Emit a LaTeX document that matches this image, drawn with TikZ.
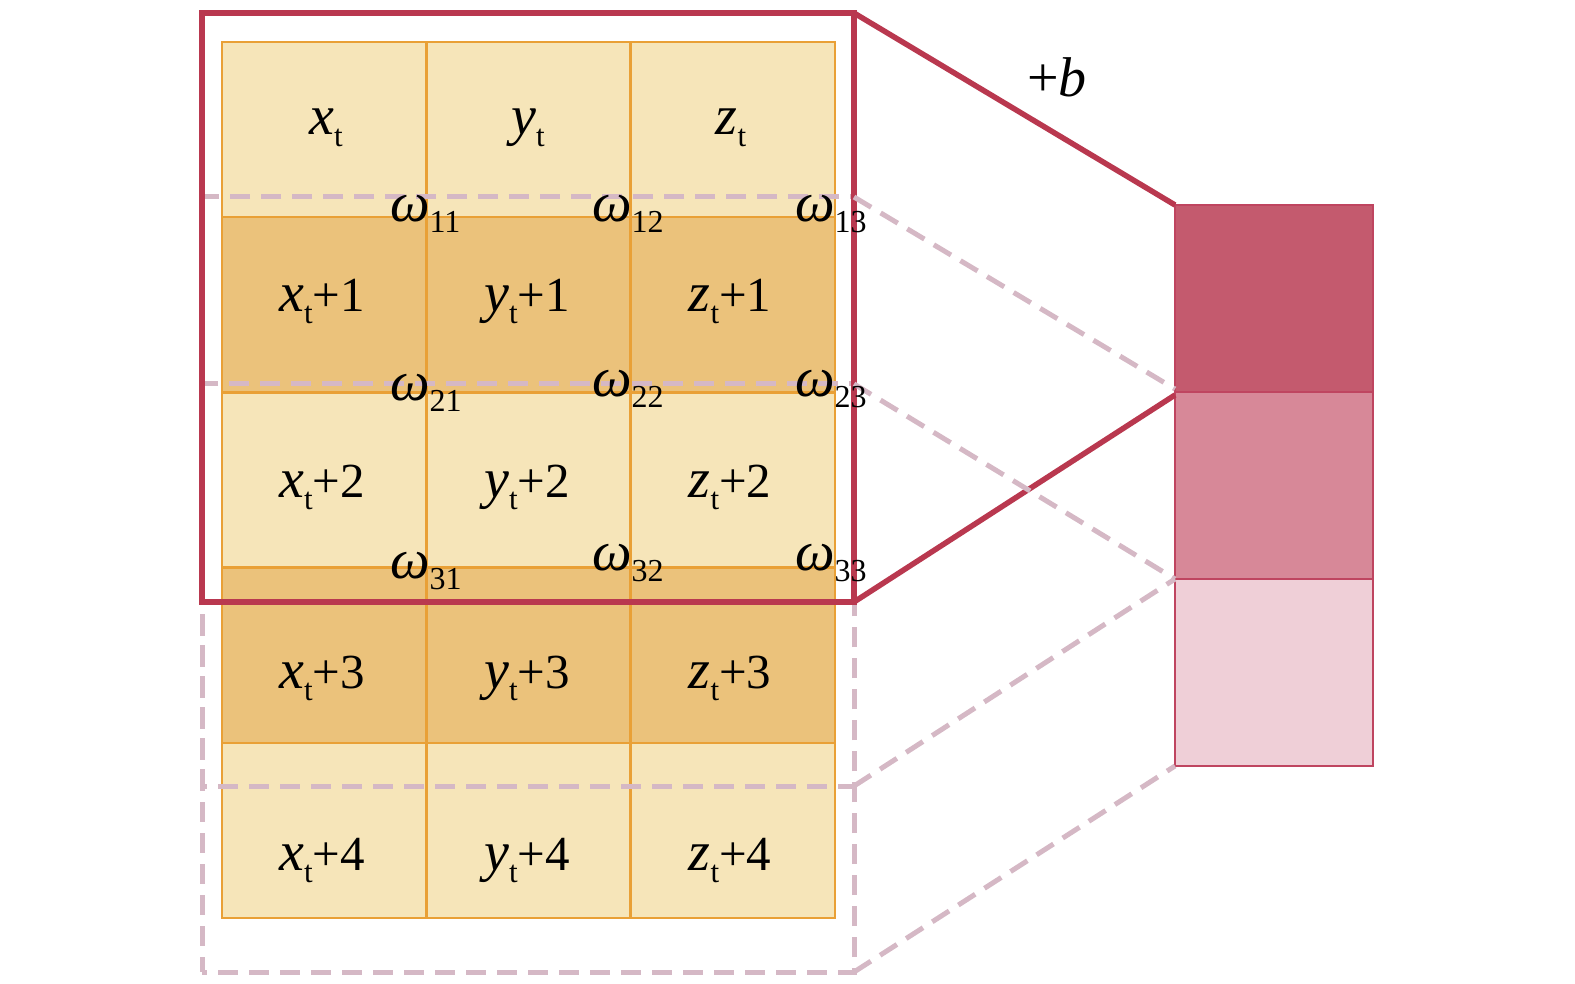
\documentclass[tikz,border=0pt]{standalone}
\usepackage{fontspec}
\setmainfont{Liberation Serif}
\definecolor{cellL}{HTML}{F6E5B9}
\definecolor{cellD}{HTML}{EBC27B}
\definecolor{cellB}{HTML}{E9A036}
\definecolor{winR}{HTML}{B9384F}
\definecolor{dashP}{HTML}{D5B8C5}
\definecolor{boxA}{HTML}{C45A6E}
\definecolor{boxB}{HTML}{D78898}
\definecolor{boxC}{HTML}{EFCFD7}
\definecolor{boxE}{HTML}{BF4560}
\newcommand\cellfont[2]{{\fontsize{56}{56}\selectfont\itshape #1}\raisebox{-12pt}{\fontsize{31}{31}\selectfont t}{\fontsize{49}{49}\selectfont #2}}
\newcommand\wlab[1]{{\fontsize{56}{56}\selectfont\itshape ω}\raisebox{-11pt}{\fontsize{32}{32}\selectfont #1}}
\tikzset{
  cellbox/.style={rectangle, draw=cellB, line width=2.5pt, minimum width=204.33pt, minimum height=175.2pt, inner sep=0pt, outer sep=0pt, anchor=north west},
  winbox/.style={rectangle, draw=winR, line width=5.5pt, inner sep=0pt, outer sep=0pt, anchor=north west},
  dashbox/.style={rectangle, draw=dashP, line width=5pt, dash pattern=on 20pt off 11pt, dash phase=15pt, inner sep=0pt, outer sep=0pt, anchor=north west},
  dashline/.style={draw=dashP, line width=5pt, dash pattern=on 20pt off 11pt},
  redline/.style={draw=winR, line width=5.5pt},
  outbox/.style={rectangle, draw=boxE, line width=2.5pt, minimum width=198pt, minimum height=187pt, inner sep=0pt, outer sep=0pt, anchor=north west},
  txt/.style={inner sep=0pt, outer sep=0pt, anchor=base},
  wtxt/.style={inner sep=0pt, outer sep=0pt, anchor=base west},
}
\begin{document}
\begin{tikzpicture}[x=1pt,y=-1pt]
\useasboundingbox (0,0) rectangle (1575,984);
% grid cells
\foreach \r/\fc in {0/cellL,1/cellD,2/cellL,3/cellD,4/cellL}{
  \foreach \c in {0,1,2}{
    \node[cellbox, fill=\fc] (c\r\c) at ({222+204.33*\c},{42+175.2*\r}) {};
  }
}
% dashed windows
\node[dashbox, minimum width=652pt, minimum height=589pt] (win2) at (202,197) {};
\node[dashbox, minimum width=652pt, minimum height=588pt] (win3) at (202,384) {};
% red window
\node[winbox, minimum width=652pt, minimum height=589pt] (win1) at (202,13) {};
% output boxes
\node[outbox, fill=boxA] (b1) at (1175,205) {};
\node[outbox, fill=boxB] (b2) at (1175,392) {};
\node[outbox, fill=boxC] (b3) at (1175,579) {};
% connectors
\draw[redline] (win1.north east) -- (b1.north west);
\draw[redline] (win1.south east) -- ([yshift=-3pt]b1.south west);
\draw[dashline] (win2.north east) -- ([yshift=3pt]b1.south west);
\draw[dashline] (win3.north east) -- (b2.south west);
\draw[dashline] (win2.south east) -- (b2.south west);
\draw[dashline] (win3.south east) -- (b3.south west);
% cell labels
\node[txt] (l00) at (326,135) {\cellfont{x}{}};
\node[txt] (l01) at (528,135) {\cellfont{y}{}};
\node[txt] (l02) at (731,135) {\cellfont{z}{}};
\node[txt] (l10) at (322,312) {\cellfont{x}{+1}};
\node[txt] (l11) at (527,312) {\cellfont{y}{+1}};
\node[txt] (l12) at (730,312) {\cellfont{z}{+1}};
\node[txt] (l20) at (322,497) {\cellfont{x}{+2}};
\node[txt] (l21) at (527,497) {\cellfont{y}{+2}};
\node[txt] (l22) at (730,497) {\cellfont{z}{+2}};
\node[txt] (l30) at (322,688) {\cellfont{x}{+3}};
\node[txt] (l31) at (527,688) {\cellfont{y}{+3}};
\node[txt] (l32) at (730,688) {\cellfont{z}{+3}};
\node[txt] (l40) at (322,870) {\cellfont{x}{+4}};
\node[txt] (l41) at (527,870) {\cellfont{y}{+4}};
\node[txt] (l42) at (730,870) {\cellfont{z}{+4}};
% weights
\node[wtxt] (w11) at (390,222) {\wlab{11}};
\node[wtxt] (w12) at (592,222) {\wlab{12}};
\node[wtxt] (w13) at (795,222) {\wlab{13}};
\node[wtxt] (w21) at (390,400) {\wlab{21}};
\node[wtxt] (w22) at (592,396) {\wlab{22}};
\node[wtxt] (w23) at (795,396) {\wlab{23}};
\node[wtxt] (w31) at (390,578) {\wlab{31}};
\node[wtxt] (w32) at (592,570) {\wlab{32}};
\node[wtxt] (w33) at (795,570) {\wlab{33}};
% bias
\node[txt] (bias) at (1057,97) {\fontsize{56}{56}\selectfont +\textit{b}};
\end{tikzpicture}
\end{document}
